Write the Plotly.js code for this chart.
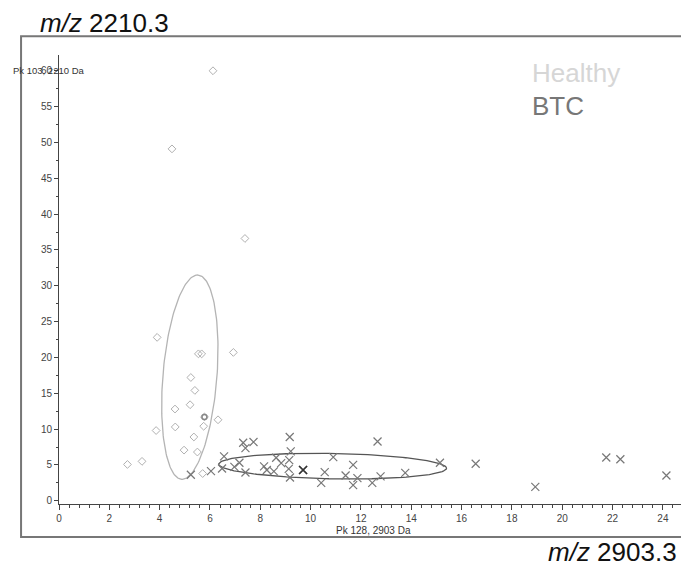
<!DOCTYPE html>
<html>
<head>
<meta charset="utf-8">
<script src="https://cdn.plot.ly/plotly-3.0.1.min.js"></script>
<style>html,body{margin:0;padding:0;background:#fff;}#chart{width:681px;height:567px;}</style>
</head>
<body>
<div id="chart"></div>
<script>
// Healthy group (open diamonds)
const healthyX = [6.12, 4.49, 7.39, 3.90, 5.54, 5.67, 6.93, 5.24, 5.40, 5.21, 4.61, 5.78, 6.32, 5.75, 4.62, 3.86, 5.36, 4.97, 5.50, 2.72, 3.30, 5.71];
const healthyY = [60.0, 49.1, 36.6, 22.8, 20.5, 20.5, 20.7, 17.2, 15.4, 13.4, 12.8, 11.7, 11.3, 10.4, 10.3, 9.8, 8.9, 7.07, 6.8, 5.07, 5.5, 3.8];
// BTC group (crosses)
const btcX = [5.24, 6.04, 6.48, 6.56, 7.32, 7.41, 7.73, 6.97, 7.17, 7.41, 8.15, 8.26, 8.63, 8.54, 8.83, 9.17, 9.21, 9.15, 9.13, 9.18, 9.70, 10.42, 10.56, 10.9, 12.66, 11.39, 11.69, 11.86, 11.69, 12.45, 12.78, 13.76, 15.14, 16.56, 18.93, 21.75, 22.31, 24.14];
const btcY = [3.63, 4.14, 4.5, 6.2, 8.1, 7.35, 8.2, 4.74, 5.3, 3.95, 4.8, 4.3, 6.0, 4.1, 5.25, 8.9, 6.9, 5.67, 4.46, 3.25, 4.3, 2.5, 4.0, 6.1, 8.27, 3.53, 5.0, 3.16, 2.19, 2.5, 3.4, 3.9, 5.3, 5.16, 1.95, 6.04, 5.8, 3.53];
// highlighted (overlapping) points
const hlHealthyX = [5.78], hlHealthyY = [11.7];
const hlBtcX = [9.70], hlBtcY = [4.3];
// ellipse parameters (data units): center, semi-axis vector A, semi-axis vector B
const ellHealthyC = [5.2, 17.25], ellHealthyA = [0.33, 14.25], ellHealthyB = [1.07, -0.305];
const ellBtcC = [10.875, 4.83], ellBtcA = [4.527, -0.279], ellBtcB = [-0.009, 1.77];
const xTicks = [0, 2, 4, 6, 8, 10, 12, 14, 16, 18, 20, 22, 24];
const yTicks = [0, 5, 10, 15, 20, 25, 30, 35, 40, 45, 50, 55, 60];

function ellipse(c, a, b) {
  const xs = [], ys = [];
  for (let i = 0; i <= 180; i++) {
    const t = 2 * Math.PI * i / 180;
    xs.push(c[0] + a[0] * Math.cos(t) + b[0] * Math.sin(t));
    ys.push(c[1] + a[1] * Math.cos(t) + b[1] * Math.sin(t));
  }
  return {x: xs, y: ys};
}
const eH = ellipse(ellHealthyC, ellHealthyA, ellHealthyB);
const eB = ellipse(ellBtcC, ellBtcA, ellBtcB);

const data = [
  {x: eH.x, y: eH.y, mode: 'lines', line: {color: '#b4b4b4', width: 1.3}, hoverinfo: 'skip'},
  {x: eB.x, y: eB.y, mode: 'lines', line: {color: '#555555', width: 1.3}, hoverinfo: 'skip'},
  {x: healthyX, y: healthyY, mode: 'markers', name: 'Healthy',
   marker: {symbol: 'diamond-open', size: 6, color: '#b0b0b0', line: {width: 1}}},
  {x: btcX, y: btcY, mode: 'markers', name: 'BTC',
   marker: {symbol: 'x-thin-open', size: 8, color: '#777777', line: {width: 1.2, color: '#777777'}}},
  {x: hlHealthyX, y: hlHealthyY, mode: 'markers',
   marker: {symbol: 'circle-open', size: 5, color: '#888888', line: {width: 1.5, color: '#888888'}}},
  {x: hlBtcX, y: hlBtcY, mode: 'markers',
   marker: {symbol: 'x-thin-open', size: 8, color: '#333333', line: {width: 1.6, color: '#333333'}}}
];

const FONT = 'Liberation Sans, Arial, sans-serif';
const tickFont = {family: FONT, size: 10, color: '#444'};
const layout = {
  width: 681, height: 567,
  margin: {l: 59, r: 0, t: 55, b: 63, pad: 0},
  paper_bgcolor: '#fff', plot_bgcolor: '#fff',
  showlegend: false,
  xaxis: {
    range: [0, 24.72], tickvals: xTicks, ticktext: xTicks.map(String),
    ticks: 'outside', ticklen: 5, tickcolor: '#444', tickwidth: 1,
    showline: true, linecolor: '#444', linewidth: 1,
    showgrid: false, zeroline: false, tickfont: tickFont,
    minor: {ticks: 'outside', ticklen: 2.5, dtick: 0.4, tick0: 0, tickcolor: '#444', showgrid: false}
  },
  yaxis: {
    range: [-0.45, 62.2], tickvals: yTicks, ticktext: yTicks.map(String),
    ticks: 'outside', ticklen: 4, tickcolor: '#444', tickwidth: 1,
    showline: true, linecolor: '#444', linewidth: 1,
    showgrid: false, zeroline: false, tickfont: tickFont,
    minor: {ticks: 'outside', ticklen: 2.5, dtick: 2.5, tick0: 0, tickcolor: '#444', showgrid: false}
  },
  shapes: [
    {type: 'rect', xref: 'paper', yref: 'paper', x0: -0.061, x1: 1.08, y0: -0.0735, y1: 1.042,
     line: {color: '#777', width: 2}, fillcolor: 'rgba(0,0,0,0)', layer: 'below'}
  ],
  annotations: [
    {xref: 'paper', yref: 'paper', x: -0.077, y: 0.966, xanchor: 'left', yanchor: 'middle', showarrow: false,
     text: 'Pk 103, 2210 Da', font: {family: FONT, size: 9.5, color: '#333'}},
    {xref: 'paper', yref: 'paper', x: 0.505, y: -0.058, xanchor: 'center', yanchor: 'middle', showarrow: false,
     text: 'Pk 128, 2903 Da', font: {family: FONT, size: 10, color: '#333'}},
    {xref: 'paper', yref: 'paper', x: -0.033, y: 1.072, xanchor: 'left', yanchor: 'middle', showarrow: false,
     text: '<i>m/z</i> 2210.3', font: {family: FONT, size: 26, color: '#111'}},
    {xref: 'paper', yref: 'paper', x: 0.997, y: -0.108, xanchor: 'right', yanchor: 'middle', showarrow: false,
     text: '<i>m/z</i> 2903.3', font: {family: FONT, size: 26, color: '#111'}},
    {xref: 'paper', yref: 'paper', x: 0.757, y: 0.96, xanchor: 'left', yanchor: 'middle', showarrow: false,
     text: 'Healthy', font: {family: FONT, size: 26, color: '#d6d6d6'}},
    {xref: 'paper', yref: 'paper', x: 0.757, y: 0.886, xanchor: 'left', yanchor: 'middle', showarrow: false,
     text: 'BTC', font: {family: FONT, size: 26, color: '#777'}}
  ]
};
Plotly.newPlot('chart', data, layout, {displayModeBar: false, staticPlot: true});
</script>
</body>
</html>
